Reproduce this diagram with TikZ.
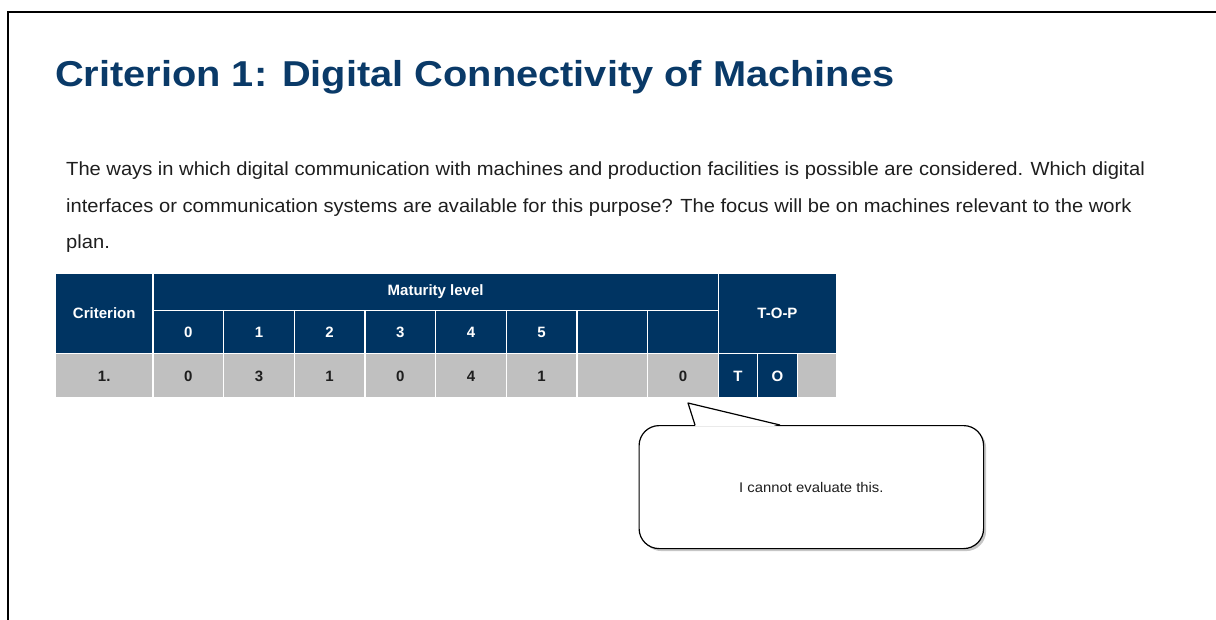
\documentclass[tikz,border=0pt]{standalone}
\usepackage{graphicx}
\usepackage{fontspec}
\setmainfont{Liberation Sans}
\usetikzlibrary{shadows,calc}
\definecolor{navy}{RGB}{0,52,98}
\definecolor{titleblue}{RGB}{10,58,104}
\definecolor{rowgrey}{RGB}{192,192,192}
\definecolor{bodytext}{RGB}{30,30,30}
\newcommand{\widen}[2]{\scalebox{#1}[1]{#2}}
\tikzset{
  cell/.style={rectangle, draw=white, line width=1.2pt, inner sep=0pt,
    anchor=north west, font=\fontsize{15}{17}\selectfont\bfseries},
  headcell/.style={cell, fill=navy, text=white},
  datacell/.style={cell, fill=rowgrey, text=bodytext},
  lvl/.style={minimum width=70.68pt, minimum height=43.3pt},
  val/.style={minimum width=70.68pt, minimum height=44pt},
  bodyline/.style={anchor=base west, inner sep=0pt, text=bodytext,
    font=\fontsize{19}{22}\selectfont},
  notebox/.style={rectangle, rounded corners=20pt, draw=black, line width=1.2pt,
    fill=white, inner sep=0pt, anchor=north west,
    drop shadow={shadow xshift=2.5pt, shadow yshift=-2.5pt, opacity=0.45},
    text=bodytext, font=\fontsize{14}{16}\selectfont},
}
\begin{document}
\begin{tikzpicture}[x=1pt,y=-1pt]
\useasboundingbox (0,0) rectangle (1216,620);
% frame
\draw[line width=1.5pt] (8,620) -- (8,12) -- (1216,12);

% title and description
\node[anchor=base west, inner sep=0pt, text=titleblue,
      font=\fontsize{36}{40}\selectfont\bfseries] (title) at (55,86.7)
  {\widen{1.105}{Criterion 1: Digital Connectivity of Machines}};
\node[bodyline] (l1) at (66,175.7) {\widen{1.06}{The ways in which digital communication with machines and production facilities is possible are considered. Which digital}};
\node[bodyline] (l2) at (66,212.5) {\widen{1.06}{interfaces or communication systems are available for this purpose? The focus will be on machines relevant to the work}};
\node[bodyline] (l3) at (66,249) {\widen{1.06}{plan.}};

% table header
\node[headcell, minimum width=97.3pt, minimum height=80.6pt] (crit) at (55,272.7) {Criterion};
\node[headcell, minimum width=565.44pt, minimum height=37.3pt] (mat) at (152.3,272.7) {Maturity level};
\node[headcell, minimum width=118.3pt, minimum height=80.6pt] (top) at (717.74,272.7) {T-O-P};
\node[headcell, lvl] (h0) at (152.3,310) {0};
\node[headcell, lvl] (h1) at (222.98,310) {1};
\node[headcell, lvl] (h2) at (293.66,310) {2};
\node[headcell, lvl] (h3) at (364.34,310) {3};
\node[headcell, lvl] (h4) at (435.02,310) {4};
\node[headcell, lvl] (h5) at (505.7,310) {5};
\node[headcell, lvl] (h6) at (576.38,310) {};
\node[headcell, lvl] (h7) at (647.06,310) {};

% table data row
\node[datacell, minimum width=97.3pt, minimum height=44pt] (r1) at (55,353.3) {1.};
\node[datacell, val] (d0) at (152.3,353.3) {0};
\node[datacell, val] (d1) at (222.98,353.3) {3};
\node[datacell, val] (d2) at (293.66,353.3) {1};
\node[datacell, val] (d3) at (364.34,353.3) {0};
\node[datacell, val] (d4) at (435.02,353.3) {4};
\node[datacell, val] (d5) at (505.7,353.3) {1};
\node[datacell, val] (d6) at (576.38,353.3) {};
\node[datacell, val] (d7) at (647.06,353.3) {0};
\node[headcell, minimum width=39.4pt, minimum height=44pt] (tT) at (717.74,353.3) {T};
\node[headcell, minimum width=39.4pt, minimum height=44pt] (tO) at (757.14,353.3) {O};
\node[datacell, minimum width=39.5pt, minimum height=44pt] (tP) at (796.54,353.3) {};

% speech bubble
\node[notebox, minimum width=344.5pt, minimum height=123pt] (note) at (638.5,425) {\widen{1.06}{I cannot evaluate this.}};
\coordinate (tip) at (688,403);
\coordinate (pl) at (695,425);
\coordinate (pr) at (780,425);
\fill[white] ($(pl)+(0.6,1.4)$) -- (tip) -- ($(pr)+(-1.5,1.4)$) -- cycle;
\draw[line width=1.2pt, line join=round] (pl) -- (tip) -- (pr);
\end{tikzpicture}
\end{document}
